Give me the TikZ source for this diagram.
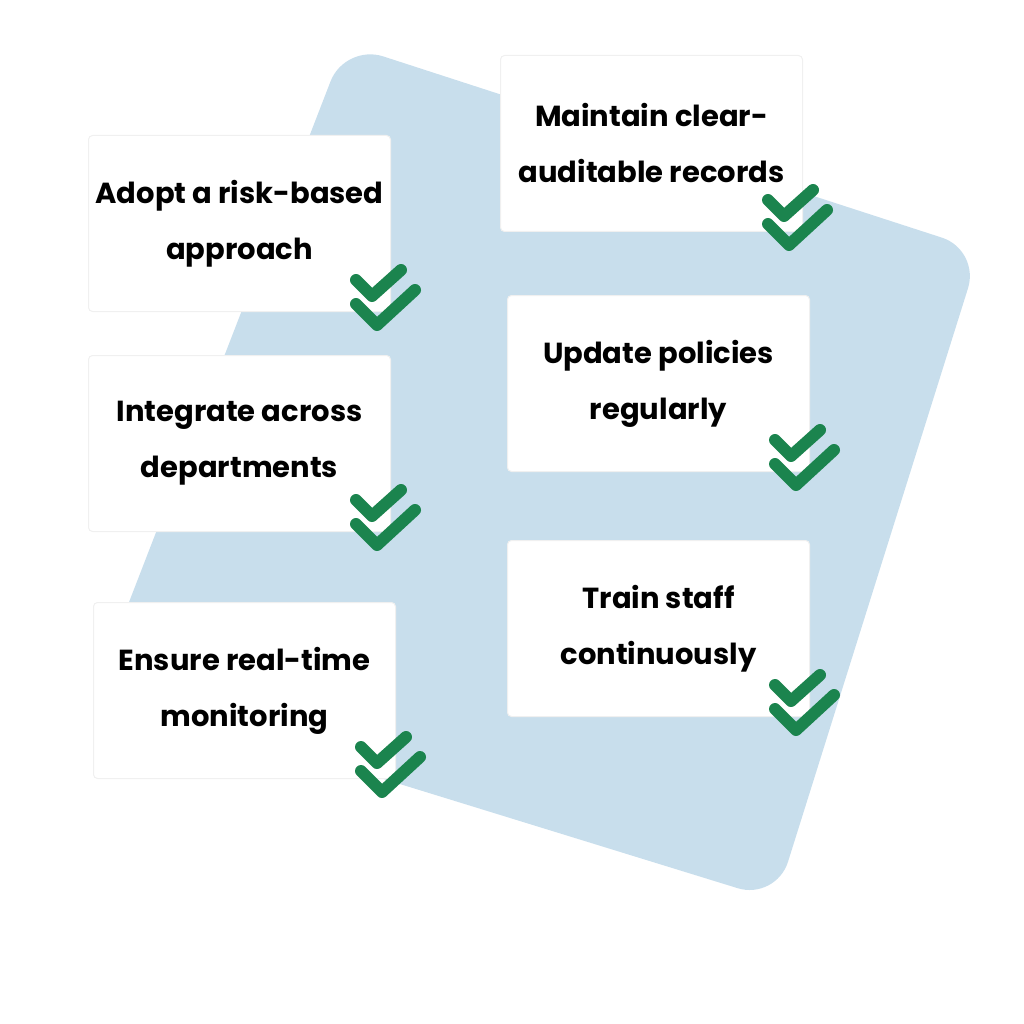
\documentclass[tikz,border=0pt]{standalone}
\usepackage{fontspec}
\setmainfont{Poppins}
\usetikzlibrary{positioning}
\definecolor{bgblue}{RGB}{200,222,236}
\definecolor{tickgreen}{RGB}{27,132,78}
\tikzset{
  card/.style={fill=white,draw=black!6,line width=1pt,rounded corners=4pt,
    minimum width=302pt,minimum height=176pt,anchor=north west,inner sep=0pt,
    align=center,font=\fontsize{29}{56}\selectfont\bfseries,text=black},
  tick/.style={draw=tickgreen,line width=12pt,line cap=round,line join=round}
}
\newcommand{\dblcheck}[1]{%
  \draw[tick] ([shift={(-35,-32)}]#1) -- ([shift={(-19,-16)}]#1) -- ([shift={(10,-42)}]#1);
  \draw[tick] ([shift={(-35,-8)}]#1) -- ([shift={(-14,13)}]#1) -- ([shift={(24,-22)}]#1);}
\begin{document}
\begin{tikzpicture}[x=1pt,y=-1pt]
\useasboundingbox (0,0) rectangle (1024,1024);
%background plate
\fill[bgblue,rounded corners=40pt] (345,44) -- (980,250) -- (776,900) -- (95,690) -- cycle;

%cards
\node[card] (risk) at (88,135) {Adopt a risk-based\\approach};
\node[card] (integrate) at (88,355) {Integrate across\\departments};
\node[card] (monitor) at (93,602) {Ensure real-time\\monitoring};
\node[card] (records) at (500,55) {Maintain clear-\\auditable records};
\node[card] (policies) at (507,295) {Update policies\\regularly};
\node[card] (train) at (507,540) {Train staff\\continuously};

%checks
\foreach \c in {risk,integrate,monitor,records,policies,train}
  {\dblcheck{\c.south east}}
\end{tikzpicture}
\end{document}
